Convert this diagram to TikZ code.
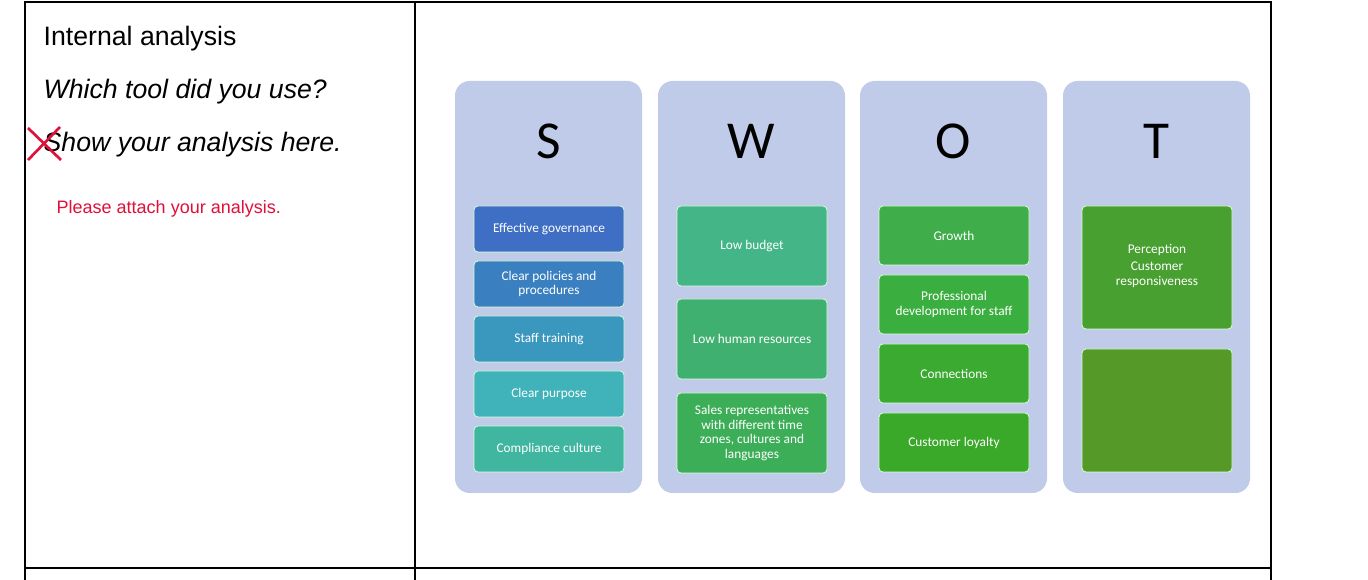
\documentclass[tikz,border=0pt]{standalone}
\usepackage{fontspec}
\setmainfont{Liberation Sans}
\newfontfamily\calfont{Carlito}
\begin{document}
\begin{tikzpicture}[x=0.75pt,y=-0.75pt,
 bx/.style={rounded corners=3pt,draw=white!60!green!40,line width=0.6pt,text=white,font=\calfont\fontsize{10}{11}\selectfont,align=center,inner sep=0pt},
 letter/.style={font=\calfont\fontsize{40}{40}\selectfont},
 tl/.style={line width=2pt}]
\definecolor{panelc}{HTML}{BFCBE8}
\definecolor{redc}{HTML}{E0103A}
\useasboundingbox (0,0) rectangle (1368,580);
\fill[white] (0,0) rectangle (1368,580);
% table
\draw[tl] (25,580) -- (25,2) -- (1271,2) -- (1271,580);
\draw[tl] (415,2) -- (415,580);
\draw[tl] (25,568) -- (1271,568);
% left texts
\node[anchor=base west,font=\fontsize{20}{20}\selectfont] (t1) at (39,46) {Internal analysis};
\node[anchor=base west,font=\itshape\fontsize{20}{20}\selectfont] (t2) at (39,99) {Which tool did you use?};
\node[anchor=base west,font=\itshape\fontsize{20}{20}\selectfont] (t3) at (39,152) {Show your analysis here.};
\node[anchor=base west,text=redc,font=\fontsize{13.5}{14}\selectfont] (t4) at (52,214) {Please attach your analysis.};
\draw[redc,line width=2pt] (28,128) -- (61,160) (60,127) -- (28,160);
% panels
\foreach \x/\L in {455/S,658/W,860/O,1063/T}{
 \fill[panelc,rounded corners=11pt] (\x,81) rectangle ++(187,412);
 \node[letter] (L\L) at (\x+93.5,141) {\L};
}
\newcommand\bxx[6]{\node[bx,fill=#5,minimum width=112.5pt,minimum height={(#3-#2)*0.75pt}] (#6) at (#1,{(#2+#3)/2}) {#4};}
\definecolor{s1}{HTML}{3F6FC4}\definecolor{s2}{HTML}{3A80C0}\definecolor{s3}{HTML}{3A97BE}
\definecolor{s4}{HTML}{40B3BA}\definecolor{s5}{HTML}{40B5A0}
\definecolor{w1}{HTML}{43B586}\definecolor{w2}{HTML}{40B070}\definecolor{w3}{HTML}{3CAE58}
\definecolor{o1}{HTML}{3FAE4A}\definecolor{o2}{HTML}{3BAE40}\definecolor{o3}{HTML}{3AAA30}\definecolor{o4}{HTML}{3AA828}
\definecolor{t1c}{HTML}{48A030}\definecolor{t2c}{HTML}{559A28}
\bxx{549}{206}{252}{Effective governance}{s1}{s1}
\bxx{549}{261}{307}{Clear policies and\\procedures}{s2}{s2}
\bxx{549}{316}{362}{Staff training}{s3}{s3}
\bxx{549}{371}{417}{Clear purpose}{s4}{s4}
\bxx{549}{426}{472}{Compliance culture}{s5}{s5}
\bxx{752}{206}{286}{Low budget}{w1}{w1}
\bxx{752}{299}{379}{Low human resources}{w2}{w2}
\bxx{752}{393}{473}{Sales representatives\\with different time\\zones, cultures and\\languages}{w3}{w3}
\bxx{954}{206}{265}{Growth}{o1}{o1}
\bxx{954}{275}{334}{Professional\\development for staff}{o2}{o2}
\bxx{954}{344}{403}{Connections}{o3}{o3}
\bxx{954}{413}{472}{Customer loyalty}{o4}{o4}
\bxx{1157}{206}{329}{}{t1c}{tb1}
\node[text=white,font=\calfont\fontsize{10}{11}\selectfont,align=center] (tt) at (1157,266) {Perception\\[2pt]Customer\\responsiveness};
\bxx{1157}{349}{472}{}{t2c}{tb2}
\end{tikzpicture}
\end{document}
